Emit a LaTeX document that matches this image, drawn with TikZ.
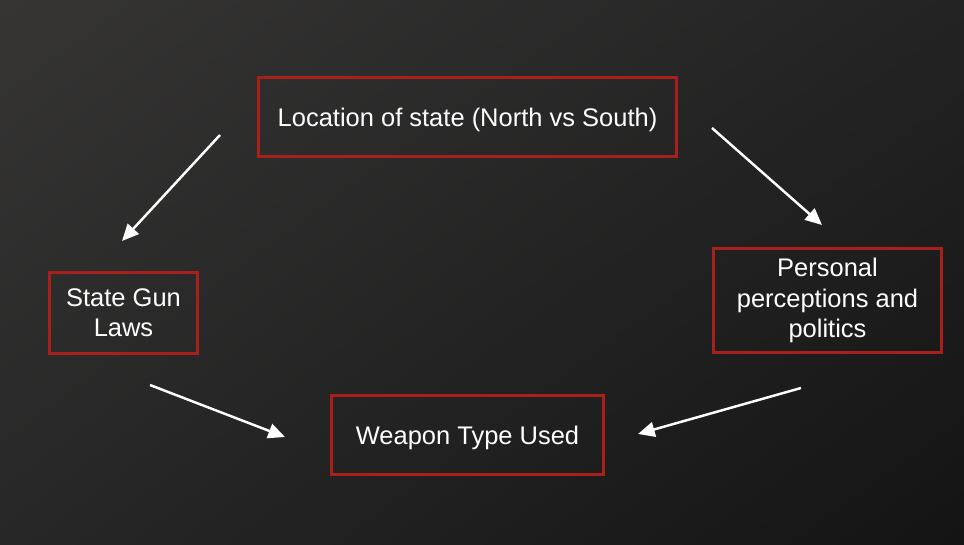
\documentclass[tikz,border=0pt]{standalone}
\usepackage{fontspec}
\setmainfont{Liberation Sans}
\usepackage{xcolor}
\usetikzlibrary{arrows.meta,shadings}
\definecolor{boxred}{HTML}{A8201C}
\definecolor{bgul}{HTML}{363534}
\definecolor{bgur}{HTML}{232323}
\definecolor{bgll}{HTML}{272727}
\definecolor{bglr}{HTML}{141414}

\begin{document}
\begin{tikzpicture}[font=\fontsize{14.5}{17.3}\selectfont,
factor/.style={draw=boxred, line width=1.7pt, text=white, align=center, inner sep=2pt, execute at begin node={\rule{0pt}{14pt}}},
link/.style={draw=white, line width=1.4pt, -{Triangle[length=9.5pt,width=8.5pt]}}]
\shade[upper left=bgul, upper right=bgur, lower left=bgll, lower right=bglr] (0,0) rectangle (19.28,10.88);
\useasboundingbox (0,0) rectangle (19.28,10.88);
% boxes
\node[factor, minimum width=8.36cm, minimum height=1.58cm] (location) at (9.35,8.54) {Location of state (North vs South)};
\node[factor, minimum width=2.96cm, minimum height=1.62cm] (laws) at (2.47,4.62) {State Gun\\Laws};
\node[factor, minimum width=4.56cm, minimum height=2.08cm] (personal) at (16.55,4.87) {Personal\\perceptions and\\politics};
\node[factor, minimum width=5.44cm, minimum height=1.58cm] (weapon) at (9.35,2.18) {Weapon Type Used};
% arrow ends
\coordinate (location-l) at (4.40,8.18);
\coordinate (laws-t) at (2.44,6.06);
\coordinate (location-r) at (14.24,8.32);
\coordinate (personal-t) at (16.44,6.38);
\coordinate (laws-b) at (3.00,3.18);
\coordinate (weapon-l) at (5.70,2.14);
\coordinate (personal-b) at (16.02,3.12);
\coordinate (weapon-r) at (12.76,2.20);
\draw[link] (location-l) -- (laws-t);
\draw[link] (location-r) -- (personal-t);
\draw[link] (laws-b) -- (weapon-l);
\draw[link] (personal-b) -- (weapon-r);
\end{tikzpicture}
\end{document}
